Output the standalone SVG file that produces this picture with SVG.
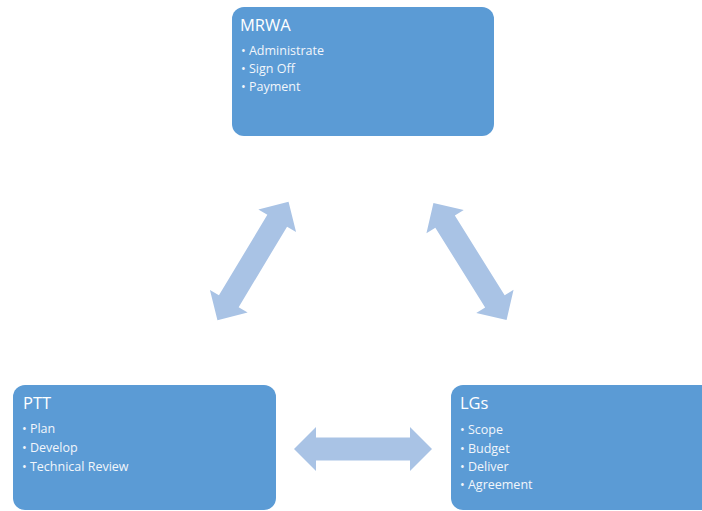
<svg xmlns="http://www.w3.org/2000/svg" width="702" height="511" viewBox="0 0 702 511">
<style>
.box{fill:#5B9BD5;}
.title{font-family:"Open Sans","Noto Sans",sans-serif;font-size:16.5px;fill:#FFFFFF;}
.item{font-family:"Open Sans","Noto Sans",sans-serif;font-size:12.5px;fill:#F2F6FB;}
.arrow{fill:#A9C3E5;}
</style>
<defs>
<path id="dblarrow" d="M -69 0 L -47 -22 L -47 -11.5 L 47 -11.5 L 47 -22 L 69 0 L 47 22 L 47 11.5 L -47 11.5 L -47 22 Z"/>
</defs>
<rect x="0" y="0" width="702" height="511" fill="#FFFFFF"/>
<g id="connectors">
<use href="#dblarrow" class="arrow" transform="translate(253,261) rotate(-59)"/>
<use href="#dblarrow" class="arrow" transform="translate(470,261.5) rotate(58)"/>
<use href="#dblarrow" class="arrow" transform="translate(363,449)"/>
</g>
<g id="node-mrwa">
<rect class="box" x="232" y="7" width="262" height="129" rx="12"/>
<text class="title" x="240" y="31">MRWA</text>
<text class="item" x="241" y="55">• Administrate</text>
<text class="item" x="241" y="73">• Sign Off</text>
<text class="item" x="241" y="91">• Payment</text>
</g>
<g id="node-ptt">
<rect class="box" x="13" y="385" width="263" height="125" rx="12"/>
<text class="title" x="23" y="409">PTT</text>
<text class="item" x="22" y="433">• Plan</text>
<text class="item" x="22" y="452">• Develop</text>
<text class="item" x="22" y="471">• Technical Review</text>
</g>
<g id="node-lgs">
<rect class="box" x="451" y="385" width="270" height="125" rx="12"/>
<text class="title" x="460" y="409">LGs</text>
<text class="item" x="460" y="434">• Scope</text>
<text class="item" x="460" y="453">• Budget</text>
<text class="item" x="460" y="471">• Deliver</text>
<text class="item" x="460" y="489">• Agreement</text>
</g>
</svg>
